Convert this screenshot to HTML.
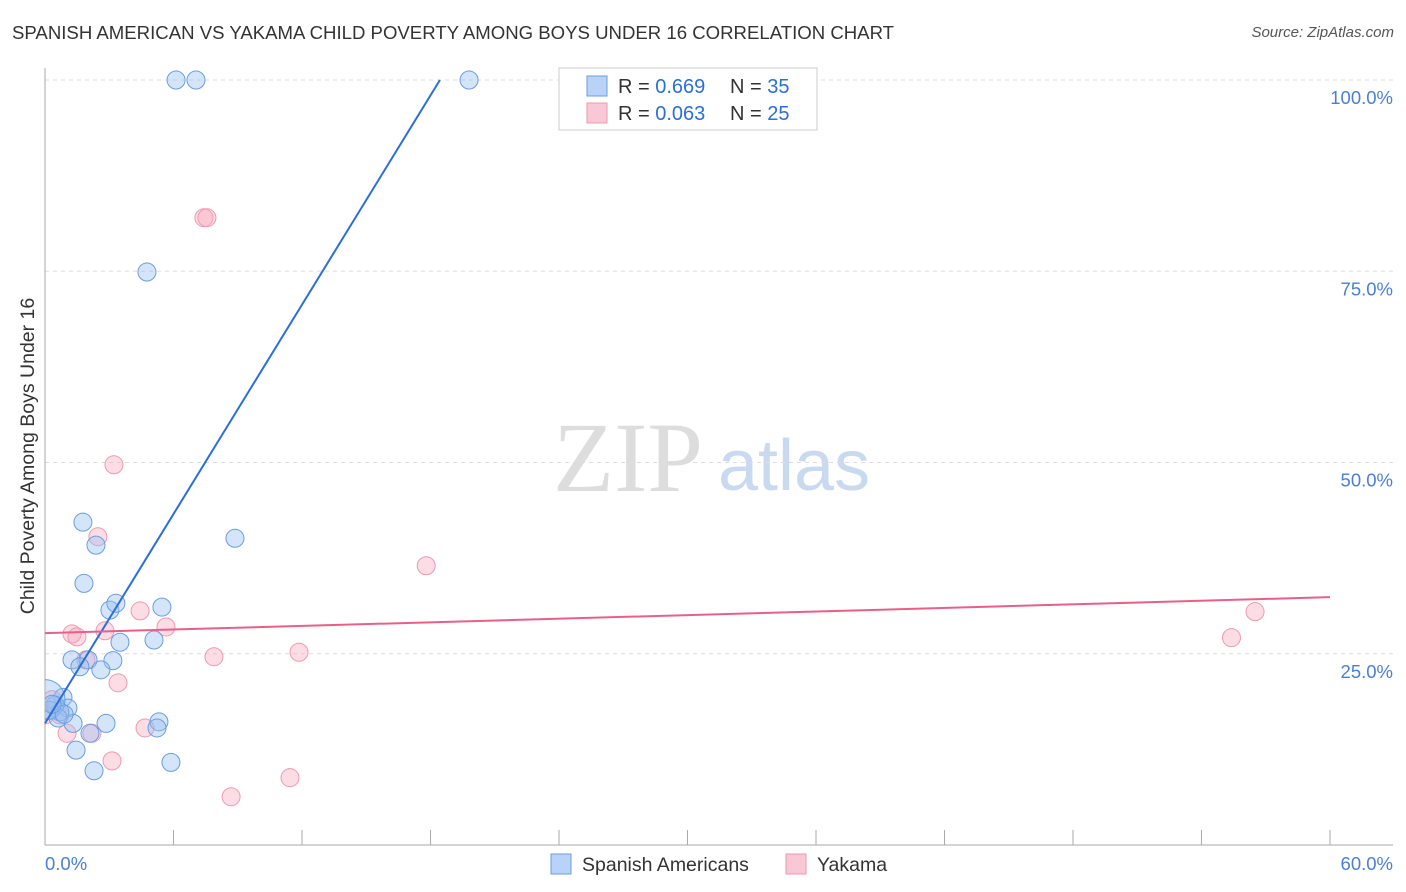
<!DOCTYPE html>
<html><head><meta charset="utf-8"><style>
body{margin:0;background:#fff;font-family:"Liberation Sans",sans-serif;}
#wrap{position:relative;width:1406px;height:892px;overflow:hidden;}
.t{position:absolute;white-space:nowrap;}
</style></head><body>
<div id="wrap">
<div class="t" style="left:12px;top:22px;font-size:18.6px;color:#333;">SPANISH AMERICAN VS YAKAMA CHILD POVERTY AMONG BOYS UNDER 16 CORRELATION CHART</div>
<div class="t" style="right:12px;top:24px;font-size:15px;color:#555;font-style:italic;">Source: ZipAtlas.com</div>
<svg id="svg" width="1406" height="892" style="position:absolute;left:0;top:0"></svg>
</div>
<script>
const blueX=[6.12,7.05,19.8,4.76,1.77,2.38,8.87,1.82,3.03,3.31,5.46,3.50,5.09,1.26,2.01,1.63,3.17,2.61,0.84,1.07,0.47,0.70,0.23,1.31,2.85,5.32,5.23,1.45,2.29,5.88,2.10,0,0.61,0.89,0.33];
const blueY=[100,100,100,74.9,42.2,39.2,40.1,34.2,30.7,31.6,31.1,26.5,26.8,24.2,24.2,23.3,24.1,22.9,19.3,17.9,18.3,17.4,17.6,15.9,15.9,16.1,15.3,12.4,9.7,10.8,14.6,19,16.6,17.1,18.4];
const pinkX=[7.42,7.56,3.22,2.47,17.8,4.44,5.65,1.26,1.49,2.80,1.91,7.89,11.86,55.4,56.5,3.41,0.33,0.70,1.03,2.19,4.67,3.13,11.44,8.69,0];
const pinkY=[82,82,49.7,40.3,36.5,30.6,28.5,27.6,27.2,28.0,24.2,24.6,25.2,27.1,30.5,21.2,19.0,17.0,14.6,14.6,15.3,11.0,8.8,6.3,17];
const blueTrend=[[0,15.9],[18.44,100]];
const pinkTrend=[[0,27.7],[60,32.4]];
const yTicks=[25,50,75,100];
const xTickLabels=["0.0%","60.0%"];
const X=v=>45+v*1285/60, Y=v=>845-v*7.65;
const svg=document.getElementById('svg');const NS='http://www.w3.org/2000/svg';
function mk(tag,attrs,name,parent){const e=document.createElementNS(NS,tag);for(const k in attrs)e.setAttribute(k,attrs[k]);


(parent||svg).appendChild(e);return e;}
let w=mk('text',{x:553,y:491,'font-size':100,'font-family':'Liberation Serif',fill:'#ddd'},'watermark-zip');w.textContent='ZIP';
w=mk('text',{x:718,y:490,'font-size':72,'font-family':'Liberation Sans',fill:'#c9daf0'},'watermark-atlas');w.textContent='atlas';
yTicks.forEach(t=>{mk('line',{x1:45,x2:1393,y1:Y(t),y2:Y(t),stroke:'#ddd','stroke-dasharray':'4,4'},'y-gridline');
const l=mk('text',{x:1393,y:Y(t)+24,'text-anchor':'end','font-size':18.5,fill:'#4a7fd4'},'y-tick-label');l.textContent=t.toFixed(1)+'%';});
mk('line',{x1:45,x2:45,y1:68,y2:845,stroke:'#aaa'},'y-axis');
mk('line',{x1:45,x2:1393,y1:845,y2:845,stroke:'#aaa'},'x-axis');
for(let i=0;i<=10;i++){mk('line',{x1:X(i*6),x2:X(i*6),y1:830,y2:845,stroke:'#aaa'},'x-tick');}
let l=mk('text',{x:45,y:870,'font-size':18.5,fill:'#4a7fd4'},'x-tick-label');l.textContent=xTickLabels[0];
l=mk('text',{x:1393,y:870,'text-anchor':'end','font-size':18.5,fill:'#4a7fd4'},'x-tick-label');l.textContent=xTickLabels[1];
l=mk('text',{x:34,y:456,'font-size':19.5,fill:'#333','text-anchor':'middle',transform:'rotate(-90 34 456)'},'y-axis-title');l.textContent='Child Poverty Among Boys Under 16';
const clip=mk('clipPath',{id:'c'},'clip');mk('rect',{x:45,y:60,width:1360,height:785},'clip-rect',clip);
const g=mk('g',{'clip-path':'url(#c)'},'points');
pinkX.forEach((x,i)=>mk('circle',{cx:X(x),cy:Y(pinkY[i]),r:9,fill:'rgba(247,168,190,0.4)',stroke:'#ec9ab2','stroke-width':1},'yakama-point',g));
blueX.forEach((x,i)=>mk('circle',{cx:X(x),cy:Y(blueY[i]),r:i==31?20:9,fill:'rgba(150,190,240,0.4)',stroke:'#6a9de0','stroke-width':1},'spanish-american-point',g));
mk('line',{x1:X(blueTrend[0][0]),y1:Y(blueTrend[0][1]),x2:X(blueTrend[1][0]),y2:Y(blueTrend[1][1]),stroke:'#2a6fd6','stroke-width':2},'spanish-american-trendline');
mk('line',{x1:X(pinkTrend[0][0]),y1:Y(pinkTrend[0][1]),x2:X(pinkTrend[1][0]),y2:Y(pinkTrend[1][1]),stroke:'#e8608a','stroke-width':2},'yakama-trendline');
mk('rect',{x:559,y:68,width:258,height:62,fill:'#fff',stroke:'#ccc'},'legend-box');
[['#b8d3f7','#6a9de0','0.669','35',86],['#f9c7d6','#ec9ab2','0.063','25',113]].forEach(r=>{
mk('rect',{x:587,y:r[4]-10,width:20,height:20,fill:r[0],stroke:r[1]},'legend-swatch');
const t=mk('text',{x:618,y:r[4]+7,'font-size':20,fill:'#333'},'legend-entry');
t.innerHTML='R = <tspan fill="#2a6fd6">'+r[2]+'</tspan><tspan x="730">N = </tspan><tspan fill="#2a6fd6">'+r[3]+'</tspan>';});
mk('rect',{x:551,y:854,width:20,height:20,fill:'#b8d3f7',stroke:'#6a9de0'},'bottom-legend-swatch-spanish');
l=mk('text',{x:582,y:871,'font-size':19.5,fill:'#333'},'bottom-legend-spanish');l.textContent='Spanish Americans';
mk('rect',{x:786,y:854,width:20,height:20,fill:'#f9c7d6',stroke:'#ec9ab2'},'bottom-legend-swatch-yakama');
l=mk('text',{x:817,y:871,'font-size':19.5,fill:'#333'},'bottom-legend-yakama');l.textContent='Yakama';
</script>
</body></html>
